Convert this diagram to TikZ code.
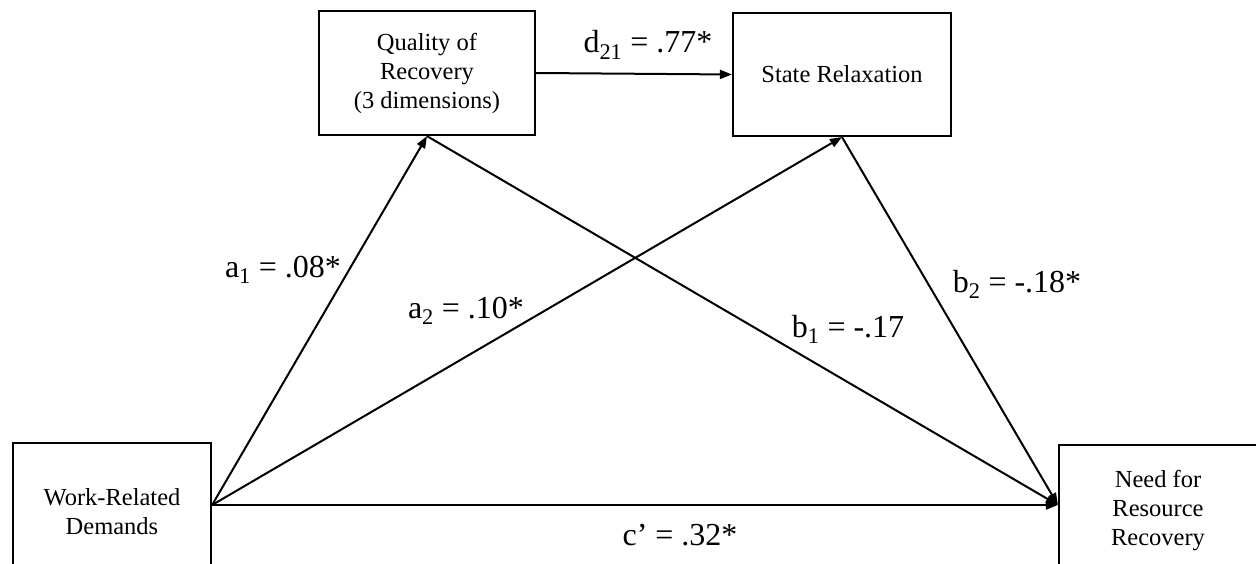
\documentclass[tikz,border=0pt]{standalone}
\usepackage{fontspec}
\setmainfont{Liberation Serif}
\usetikzlibrary{arrows.meta}
\begin{document}
\begin{tikzpicture}[x=1pt,y=-1pt,
  box/.style={draw,line width=2.2pt,inner sep=0pt,align=center,
    font=\fontsize{24.5}{29}\selectfont},
  lbl/.style={inner sep=0pt,font=\fontsize{32}{36}\selectfont},
  conn/.style={line width=2pt,-{Triangle[length=12pt,width=9pt]}}]
\useasboundingbox (0,0) rectangle (1256,564);
\clip (0,0) rectangle (1256,564);
\node[box,minimum width=216pt,minimum height=124pt] (q) at (427,73) {Quality of\\Recovery\\(3 dimensions)};
\node[box,minimum width=218pt,minimum height=123pt] (s) at (842,74.5) {State Relaxation};
\node[box,minimum width=198pt,minimum height=124pt] (w) at (112,505) {\rule{0pt}{30pt}Work-Related\\Demands};
\node[box,minimum width=198pt,minimum height=120pt] (n) at (1158,505) {\rule{0pt}{28pt}Need for\\Resource\\Recovery};
\draw[conn] (q.east) -- (s.west);
\draw[conn] (w.east) -- (q.south);
\draw[conn] (w.east) -- (s.south);
\draw[conn] (w.east) -- (n.west);
\draw[conn] (q.south) -- (n.west);
\draw[conn] (s.south) -- (n.west);
\node[lbl,anchor=base] (ld) at (648,53) {d\textsubscript{21} = .77*};
\node[lbl,anchor=base] (la1) at (283,277) {a\textsubscript{1} = .08*};
\node[lbl,anchor=base] (la2) at (466,318) {a\textsubscript{2} = .10*};
\node[lbl,anchor=base] (lb1) at (848,337) {b\textsubscript{1} = -.17};
\node[lbl,anchor=base] (lb2) at (1017,292) {b\textsubscript{2} = -.18*};
\node[lbl,anchor=base] (lc) at (680,545) {c’ = .32*};
\end{tikzpicture}
\end{document}
